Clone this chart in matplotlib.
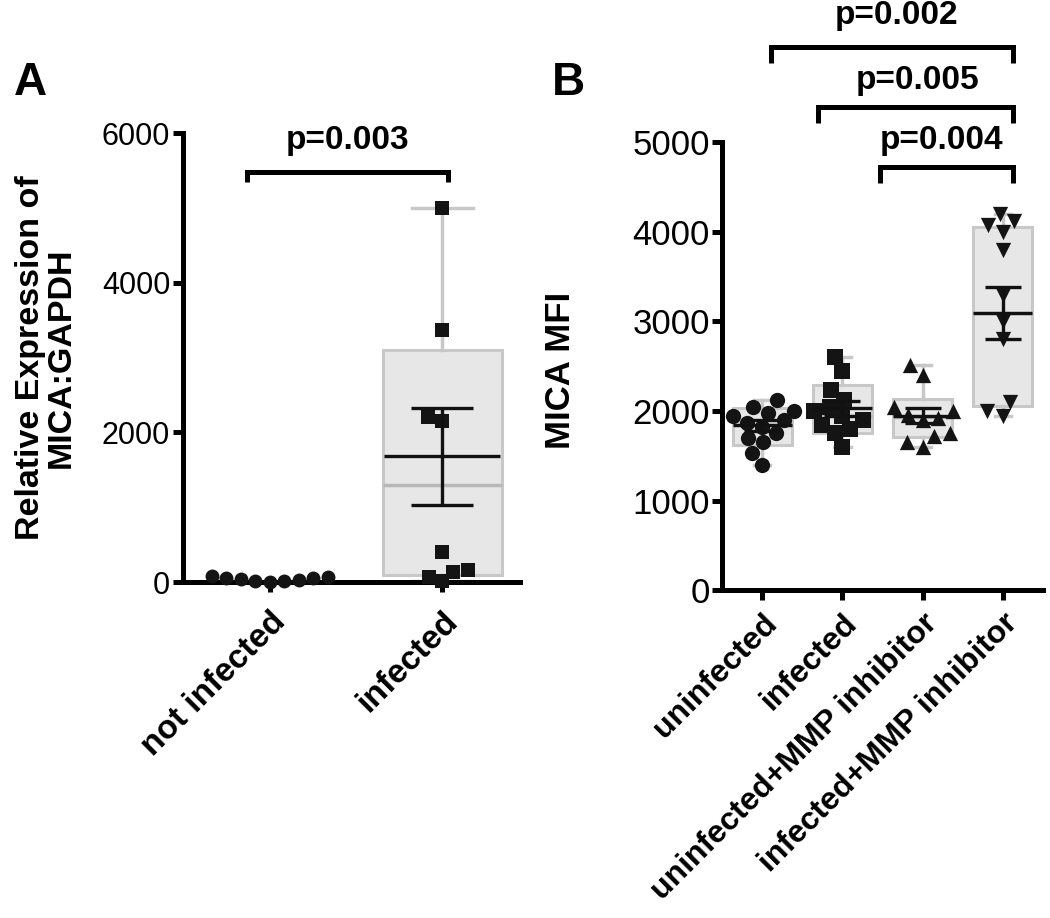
import numpy as np
import pandas as pd
import matplotlib
matplotlib.use('Agg')
import matplotlib.pyplot as plt
import seaborn as sns

plt.rcParams['font.family'] = ['Liberation Sans', 'DejaVu Sans']

# ---- panel A data ----
a_groups = ['not infected', 'infected']
a_not_infected = [40, 10, 60, 20, 80, 0, 50, 30, 70]
a_infected = [5000, 3370, 2200, 2150, 400, 160, 130, 70, 10]
a_q1 = [0, 90]
a_q3 = [0, 3100]
a_med = [0, 1300]
a_whislo = [0, 10]
a_whishi = [0, 5000]
a_mean = [40, 1680]
a_sem = [10, 650]

# ---- panel B data ----
b_groups = ['uninfected', 'infected', 'uninfected+MMP inhibitor', 'infected+MMP inhibitor']
b_uninf = [2120, 2050, 2000, 1980, 1950, 1900, 1870, 1820, 1750, 1700, 1650, 1530, 1400]
b_inf = [2600, 2450, 2230, 2120, 2050, 2000, 1950, 1900, 1850, 1800, 1750, 1600]
b_uninf_mmp = [2510, 2400, 2050, 2000, 1960, 1920, 1900, 1750, 1720, 1650, 1600]
b_inf_mmp = [4200, 4120, 4080, 4000, 3800, 3300, 3000, 2800, 2100, 2000, 1950]
b_q1 = [1620, 1760, 1710, 2060]
b_q3 = [2030, 2290, 2140, 4050]
b_med = [1850, 1950, 1930, 3100]
b_whislo = [1400, 1600, 1600, 1950]
b_whishi = [2120, 2600, 2510, 4200]
b_mean = [1840, 2030, 1950, 3100]
b_sem = [60, 80, 80, 290]

BOX_FACE = '#e7e7e7'
BOX_EDGE = '#c8c8c8'
PT = '#141414'


def boxes(ax, q1, q3, med, lo, hi, width, capw):
    stats = []
    for i in range(len(q1)):
        stats.append(dict(q1=q1[i], q3=q3[i], med=med[i], whislo=lo[i], whishi=hi[i], fliers=[]))
    ax.bxp(stats, positions=range(len(q1)), widths=width, patch_artist=True,
           showfliers=False, capwidths=capw,
           boxprops=dict(facecolor=BOX_FACE, edgecolor=BOX_EDGE, linewidth=2.2),
           whiskerprops=dict(color=BOX_EDGE, linewidth=2.5),
           capprops=dict(color=BOX_EDGE, linewidth=2.5),
           medianprops=dict(color='#b8b8b8', linewidth=2.5),
           manage_ticks=False)


def mean_sem(ax, x, mean, sem, width, capsize):
    x = np.asarray(x)
    ax.hlines(mean, x - width / 2, x + width / 2, color='#111111', lw=2.4, zorder=4)
    ax.errorbar(x, mean, yerr=sem, fmt='none', ecolor='#111111', elinewidth=2.4,
                capsize=capsize, capthick=2.4, zorder=4)


def swarm(ax, order, name, vals, marker, size):
    df = pd.DataFrame({'g': [name] * len(vals), 'v': vals})
    sns.swarmplot(data=df, x='g', y='v', order=order, marker=marker, size=size,
                  color=PT, ax=ax, clip_on=False, zorder=3, linewidth=0)


def bracket(ax, x0, x1, y, h, text, tx, ty, fs):
    ax.plot([x0, x0, x1, x1], [y - h, y, y, y - h], color='k', lw=3.6,
            clip_on=False, solid_joinstyle='miter', solid_capstyle='butt')
    ax.text(tx, ty, text, ha='center', va='center', fontsize=fs, fontweight='bold')


def style(ax, tick_fs, xlab_fs, xpad):
    for s in ['top', 'right']:
        ax.spines[s].set_visible(False)
    for s in ['left', 'bottom']:
        ax.spines[s].set_linewidth(3.6)
    ax.tick_params(width=3.6, length=7, labelsize=tick_fs, pad=2)
    ax.tick_params(axis='x', pad=xpad)
    for lab in ax.get_xticklabels():
        lab.set_rotation(45)
        lab.set_ha('right')
        lab.set_va('top')
        lab.set_rotation_mode('anchor')
        lab.set_fontweight('bold')
        lab.set_fontsize(xlab_fs)


fig = plt.figure(figsize=(10.5, 9.18), dpi=100)

# ---------- A ----------
axA = fig.add_axes([0.174, 0.366, 0.321, 0.489])
boxes(axA, a_q1, a_q3, a_med, a_whislo, a_whishi, [0.0, 0.69], [0.0, 0.35])
swarm(axA, a_groups, 'not infected', a_not_infected, 'o', 10)
swarm(axA, a_groups, 'infected', a_infected, 's', 10)
mean_sem(axA, [1], [a_mean[1]], [a_sem[1]], 0.67, 22)
axA.set_xlim(-0.503, 1.448)
axA.set_ylim(0, 6000)
axA.set_yticks([0, 2000, 4000, 6000])
axA.set_xticks([0, 1])
axA.set_xticklabels(a_groups)
axA.set_xlabel('')
axA.set_ylabel('Relative Expression of\nMICA:GAPDH', fontsize=24.5, fontweight='bold',
               linespacing=1.0)
axA.yaxis.set_label_coords(-0.315, 0.5)
style(axA, 22, 24, 10)
bracket(axA, -0.13, 1.03, 5480, 130, 'p=0.003', 0.45, 5900, 24)

# ---------- B ----------
axB = fig.add_axes([0.688, 0.357, 0.305, 0.488])
boxes(axB, b_q1, b_q3, b_med, b_whislo, b_whishi, 0.74, 0.2)
markers = ['o', 's', '^', 'v']
for name, vals, m in zip(b_groups, [b_uninf, b_inf, b_uninf_mmp, b_inf_mmp], markers):
    swarm(axB, b_groups, name, vals, m, 11)
mean_sem(axB, range(4), b_mean, b_sem, 0.74, 13)
axB.set_xlim(-0.5, 3.5)
axB.set_ylim(0, 5000)
axB.set_yticks([0, 1000, 2000, 3000, 4000, 5000])
axB.set_xticks(range(4))
axB.set_xticklabels(b_groups)
axB.set_xlabel('')
axB.set_ylabel('MICA MFI', fontsize=25, fontweight='bold')
axB.yaxis.set_label_coords(-0.455, 0.49)
style(axB, 25, 23, 6)
bracket(axB, 0.11, 3.13, 6060, 170, 'p=0.002', 1.68, 6417, 24)
bracket(axB, 0.70, 3.13, 5390, 170, 'p=0.005', 1.94, 5692, 24)
bracket(axB, 1.47, 3.13, 4720, 170, 'p=0.004', 2.24, 5022, 24)

fig.text(0.013, 0.897, 'A', fontsize=33, fontweight='bold')
fig.text(0.526, 0.897, 'B', fontsize=33, fontweight='bold')

fig.savefig('out.png', dpi=100)
